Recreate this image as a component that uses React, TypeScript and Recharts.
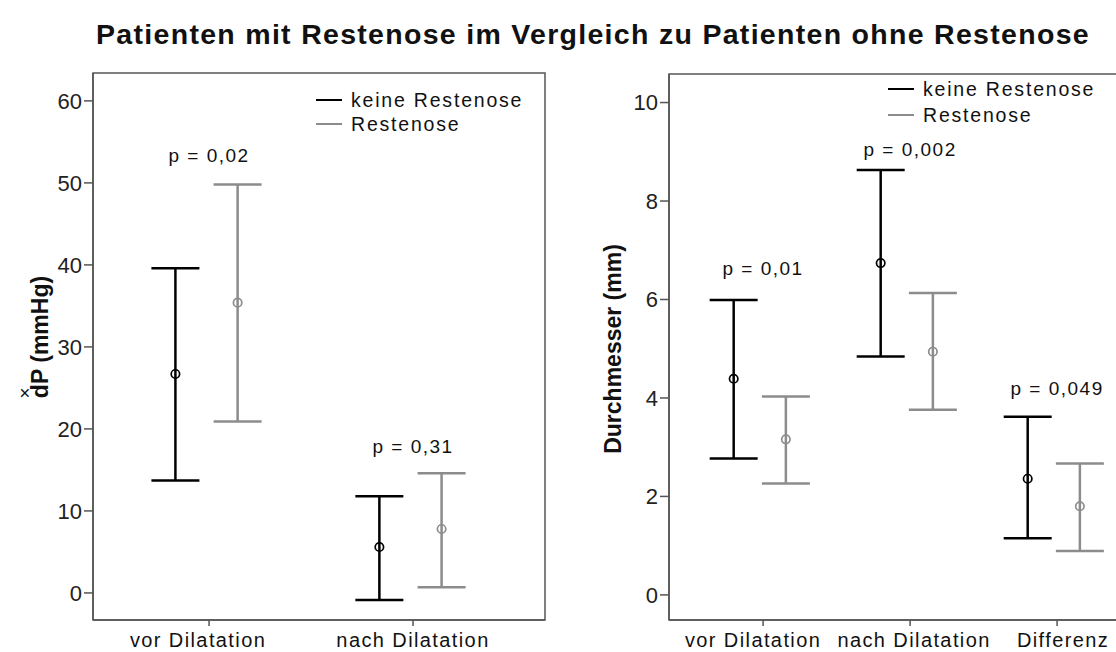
import React from "react";
import {
  ErrorBar,
  Legend,
  ReferenceArea,
  Scatter,
  ScatterChart,
  XAxis,
  YAxis,
} from "recharts";

const FONT = '"Liberation Sans", Arial, sans-serif';
const BLACK = "#000000";
const GREY = "#8c8c8c";
const AXIS_COLOR = "#555555";

const SERIES = ["keine Restenose", "Restenose"];
const SERIES_COLORS = [BLACK, GREY];

// dP panel
const DP_GROUPS = ["vor Dilatation", "nach Dilatation"];
const DP_NONE_MEAN = [26.7, 5.6];
const DP_NONE_LOW = [13.7, -0.85];
const DP_NONE_HIGH = [39.6, 11.8];
const DP_REST_MEAN = [35.4, 7.8];
const DP_REST_LOW = [20.9, 0.7];
const DP_REST_HIGH = [49.8, 14.6];
const DP_P = ["p = 0,02", "p = 0,31"];
const DP_P_Y = [53.4, 17.8];
const DP_TICKS = [0, 10, 20, 30, 40, 50, 60];

// Durchmesser panel
const DM_GROUPS = ["vor Dilatation", "nach Dilatation", "Differenz"];
const DM_NONE_MEAN = [4.39, 6.74, 2.36];
const DM_NONE_LOW = [2.77, 4.84, 1.15];
const DM_NONE_HIGH = [5.99, 8.63, 3.62];
const DM_REST_MEAN = [3.16, 4.94, 1.8];
const DM_REST_LOW = [2.26, 3.76, 0.89];
const DM_REST_HIGH = [4.03, 6.13, 2.67];
const DM_P = ["p = 0,01", "p = 0,002", "p = 0,049"];
const DM_P_Y = [6.62, 9.05, 4.19];
const DM_TICKS = [0, 2, 4, 6, 8, 10];

// SPSS nudges some category labels sideways so they don't collide
const DP_LABEL_SHIFT = [-11, 0];
const DM_LABEL_SHIFT = [-10, 4, 6];

const rows = (mean: number[], low: number[], high: number[], dodge: number) =>
  mean.map((m, i) => ({ x: i + dodge, y: m, err: [m - low[i], high[i] - m] }));

const pRows = (labels: string[], ys: number[]) =>
  labels.map((label, i) => ({ x: i, y: ys[i], label }));

const MeanDot = (color: string) => (props: any) => (
  <circle cx={props.cx} cy={props.cy} r={4.2} fill="none" stroke={color} strokeWidth={1.7} />
);

const PLabel = (props: any) => (
  <text
    x={props.cx}
    y={props.cy}
    textAnchor="middle"
    dominantBaseline="central"
    fontFamily={FONT}
    fontSize={19}
    letterSpacing={1.5}
    fill="#111"
  >
    {props.payload.label}
  </text>
);

const CatTick = (groups: string[], shift: number[]) => (props: any) => {
  const i = props.payload.value;
  return (
    <text
      x={props.x + (shift[i] ?? 0)}
      y={props.y}
      dy="0.71em"
      textAnchor="middle"
      fontFamily={FONT}
      fontSize={20}
      letterSpacing={1.4}
      fill="#111"
    >
      {groups[i] ?? ""}
    </text>
  );
};

const LegendBox = ({ left, top, gap }: { left: number; top: number; gap: number }) => (
  <div style={{ position: "absolute", left, top, fontFamily: FONT }}>
    {SERIES.map((s, i) => (
      <div
        key={s}
        style={{ display: "flex", alignItems: "center", height: gap, whiteSpace: "nowrap" }}
      >
        <div style={{ width: 26, height: 0, borderTop: `2.5px solid ${SERIES_COLORS[i]}` }} />
        <span style={{ marginLeft: 9, fontSize: 19.5, letterSpacing: 1.8, color: "#111" }}>
          {s}
        </span>
      </div>
    ))}
  </div>
);

const AxisTitle = ({ cx, cy, text, mark }: { cx: number; cy: number; text: string; mark?: boolean }) => (
  <g transform={`translate(${cx},${cy}) rotate(-90)`}>
    <text
      x={0}
      y={0}
      textAnchor="middle"
      dominantBaseline="central"
      fontFamily={FONT}
      fontWeight="bold"
      fontSize={23}
      fill="#111"
    >
      {text}
    </text>
    {mark && (
      <text
        x={-56}
        y={-16}
        fontFamily={FONT}
        fontSize={19}
        fill="#111"
        textAnchor="middle"
        dominantBaseline="central"
      >
        ×
      </text>
    )}
  </g>
);

const tickStyle = { fontSize: 22, fill: "#222", fontFamily: FONT };

function Panel({
  width,
  height,
  yWidth,
  top,
  xDomain,
  yDomain,
  yTicks,
  groups,
  labelShift,
  none,
  rest,
  pData,
  title,
  titleX,
  titleY,
  mark,
  legend,
}: any) {
  return (
    <ScatterChart width={width} height={height} margin={{ top, right: 15, bottom: 0, left: 0 }}>
      <XAxis
        type="number"
        dataKey="x"
        domain={xDomain}
        ticks={groups.map((_: string, i: number) => i)}
        allowDataOverflow
        interval={0}
        height={32}
        tickSize={6}
        tickMargin={7}
        stroke={AXIS_COLOR}
        strokeWidth={1.5}
        tick={CatTick(groups, labelShift)}
      />
      <YAxis
        type="number"
        dataKey="y"
        domain={yDomain}
        ticks={yTicks}
        allowDataOverflow
        width={yWidth}
        tickSize={9}
        tickMargin={2}
        stroke={AXIS_COLOR}
        strokeWidth={1.5}
        tick={tickStyle}
        label={() => <AxisTitle cx={titleX} cy={titleY} text={title} mark={mark} />}
      />
      <ReferenceArea
        x1={xDomain[0]}
        x2={xDomain[1]}
        y1={yDomain[0]}
        y2={yDomain[1]}
        fill="none"
        stroke={AXIS_COLOR}
        strokeWidth={1.5}
        ifOverflow="visible"
      />
      <Scatter data={none} shape={MeanDot(BLACK)} isAnimationActive={false}>
        <ErrorBar
          dataKey="err"
          direction="y"
          width={24}
          stroke={BLACK}
          strokeWidth={2.5}
          isAnimationActive={false}
        />
      </Scatter>
      <Scatter data={rest} shape={MeanDot(GREY)} isAnimationActive={false}>
        <ErrorBar
          dataKey="err"
          direction="y"
          width={24}
          stroke={GREY}
          strokeWidth={2.5}
          isAnimationActive={false}
        />
      </Scatter>
      <Scatter data={pData} shape={PLabel} isAnimationActive={false} />
      <Legend
        layout="vertical"
        align="center"
        verticalAlign="middle"
        wrapperStyle={{ left: 0, top: 0, width: 0, height: 0 }}
        content={() => legend}
      />
    </ScatterChart>
  );
}

export default function App() {
  return (
    <div
      style={{
        position: "fixed",
        left: 0,
        top: 0,
        width: 1116,
        height: 652,
        overflow: "hidden",
        background: "#fff",
        fontFamily: FONT,
      }}
    >
      <div
        style={{
          position: "absolute",
          left: 0,
          width: 1186,
          top: 18,
          textAlign: "center",
          fontWeight: "bold",
          fontSize: 28.5,
          letterSpacing: 1.3,
          color: "#111",
          whiteSpace: "nowrap",
        }}
      >
        Patienten mit Restenose im Vergleich zu Patienten ohne Restenose
      </div>
      <div style={{ position: "absolute", left: 0, top: 0 }}>
        <Panel
          width={560}
          height={652}
          yWidth={93}
          top={73}
          xDomain={[-0.569, 1.647]}
          yDomain={[-3.3, 63.4]}
          yTicks={DP_TICKS}
          groups={DP_GROUPS}
          labelShift={DP_LABEL_SHIFT}
          none={rows(DP_NONE_MEAN, DP_NONE_LOW, DP_NONE_HIGH, -0.165)}
          rest={rows(DP_REST_MEAN, DP_REST_LOW, DP_REST_HIGH, 0.14)}
          pData={pRows(DP_P, DP_P_Y)}
          title="dP (mmHg)"
          titleX={40}
          titleY={337}
          mark
          legend={<LegendBox left={316} top={88} gap={24} />}
        />
      </div>
      <div style={{ position: "absolute", left: 560, top: 0 }}>
        <Panel
          width={590}
          height={652}
          yWidth={109}
          top={74}
          xDomain={[-0.64, 2.53]}
          yDomain={[-0.51, 10.58]}
          yTicks={DM_TICKS}
          groups={DM_GROUPS}
          labelShift={DM_LABEL_SHIFT}
          none={rows(DM_NONE_MEAN, DM_NONE_LOW, DM_NONE_HIGH, -0.2)}
          rest={rows(DM_REST_MEAN, DM_REST_LOW, DM_REST_HIGH, 0.155)}
          pData={pRows(DM_P, DM_P_Y)}
          title="Durchmesser (mm)"
          titleX={53}
          titleY={349}
          legend={<LegendBox left={328} top={76} gap={26} />}
        />
      </div>
    </div>
  );
}
